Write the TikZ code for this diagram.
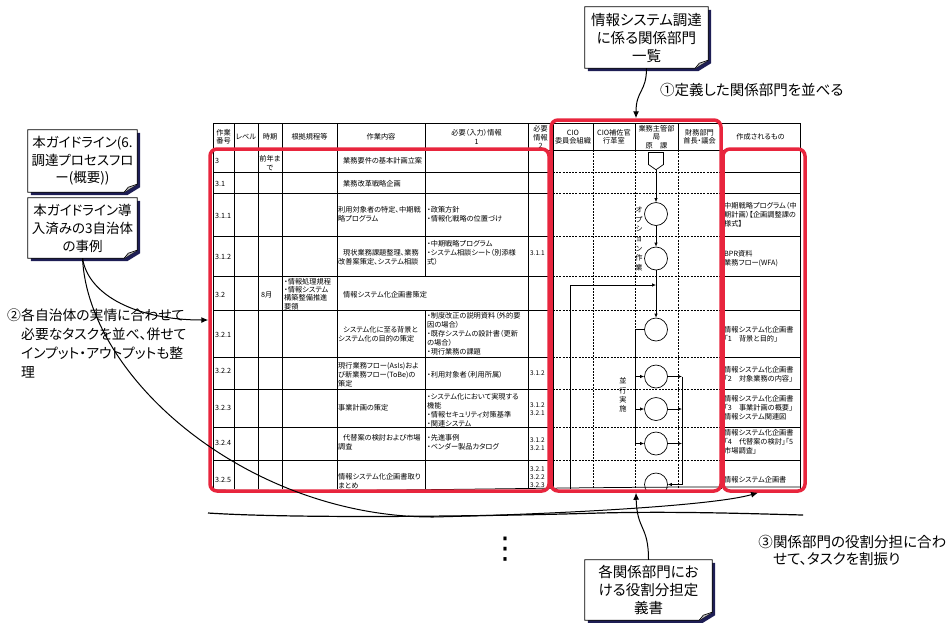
\documentclass[tikz,border=0pt]{standalone}
\usepackage{fontspec}
\setmainfont{Noto Sans CJK JP}[RawFeature=+palt]
\newfontfamily\dotfont{DejaVu Sans}
\usepackage{tikz}
\usetikzlibrary{arrows.meta,positioning,shapes.symbols,backgrounds}
\definecolor{Alert}{HTML}{E8253D}
\definecolor{Shade}{HTML}{1E1E55}

\begin{document}
\begin{tikzpicture}[x=1pt,y=-1pt,
    cell/.style={anchor=west,inner sep=0pt,align=left,font=\fontsize{7.2}{9}\selectfont},
    head/.style={inner sep=0pt,align=center,font=\fontsize{7.2}{8.5}\selectfont},
    ref/.style={anchor=west,inner sep=0pt,align=left,font=\fontsize{6.5}{7.8}\selectfont},
    grid/.style={line width=0.75pt},
    lane/.style={line width=0.9pt,dash pattern=on 2pt off 1.2pt},
    act/.style={circle,draw,fill=white,minimum size=23,inner sep=0pt,line width=0.7pt},
    flow/.style={line width=0.7pt},
    flowarr/.style={flow,-{Latex[length=4pt,width=3.5pt]}},
    zone/.style={draw=Alert,line width=3.5pt,rounded corners=7pt,inner sep=0pt},
    note/.style={inner sep=0pt,align=center,font=\fontsize{14.5}{18}\selectfont},
    remark/.style={inner sep=0pt,align=left,font=\fontsize{14.5}{19}\selectfont},
    callarrow/.style={line width=1pt,-{Latex[length=7pt,width=6pt]}}
  ]
  \useasboundingbox (0,0) rectangle (949,622);

  \begin{scope}
    \clip (200,100) rectangle (820,489.5);
    \foreach \x in {213,234,258,282,337,528,553,721,800}
      \draw[grid] (\x,123) -- (\x,489);
    \draw[grid] (425,123) -- (425,276) (425,310) -- (425,489);
    \foreach \x in {593,635,678}{
      \draw[grid] (\x,123) -- (\x,150);
      \draw[lane] (\x,150) -- (\x,489);
    }
    \foreach \y in {123,150}
      \draw[grid] (213,\y) -- (800,\y);
    \foreach \y in {172,193,236,276,310,357,389,427,460}{
      \draw[grid] (213,\y) -- (553,\y) (721,\y) -- (800,\y);
      \draw[lane] (553,\y) -- (721,\y);
    }

    \node[head] (h-no) at (223.5,137) {作業\\番号};
    \node[head] (h-level) at (246,137) {レベル};
    \node[head] (h-when) at (270,137) {時期};
    \node[head] (h-rule) at (309.5,137) {根拠規程等};
    \node[head] (h-task) at (381,137) {作業内容};
    \node[head] (h-inA) at (476.5,137) {必要（入力）情報\\1};
    \node[head] (h-inB) at (540.5,137) {必要\\情報\\2};
    \node[head] (h-cio) at (573,137) {CIO\\委員会組織};
    \node[head] (h-aide) at (614,137) {CIO補佐官\\行革室};
    \node[head] (h-owner) at (656.5,137) {業務主管部\\局\\原　課};
    \node[head] (h-fin) at (699.5,137) {財務部門\\首長・議会};
    \node[head] (h-out) at (760.5,137) {作成されるもの};

    \foreach \id/\y/\num in {r3/161/3,r31/184/3.1,r311/216/3.1.1,r312/257/3.1.2,r32/295/3.2,
        r321/335/3.2.1,r322/371/3.2.2,r323/408/3.2.3,r324/443/3.2.4,r325/480/3.2.5}
      \node[cell] (\id-no) at (215,\y) {\num};

    \foreach \id/\y/\txt in {r3/161/{\hspace*{5pt}業務要件の基本計画立案},
        r31/184/{\hspace*{5pt}業務改革戦略企画},
        r311/214.5/{利用対象者の特定、中期戦\\略プログラム},
        r312/257.5/{\hspace*{5pt}現状業務課題整理、業務\\改善案策定、システム相談},
        r32/295/{\hspace*{5pt}情報システム化企画書策定},
        r321/334/{\hspace*{5pt}システム化に至る背景と\\システム化の目的の策定},
        r322/375/{現行業務フロー(AsIs)およ\\び新業務フロー(ToBe)の\\策定},
        r323/408/{事業計画の策定},
        r324/442.5/{\hspace*{5pt}代替案の検討および市場\\調査},
        r325/481/{情報システム化企画書取り\\まとめ}}
      \node[cell] (\id-task) at (338,\y) {\txt};

    \foreach \id/\y/\txt in {r311/214.5/{・政策方針\\・情報化戦略の位置づけ},
        r312/252.5/{・中期戦略プログラム\\・システム相談シート（別添様\\式）},
        r321/333.5/{・制度改正の説明資料（外的要\\因の場合）\\・既存システムの設計書（更新\\の場合）\\・現行業務の課題},
        r322/375/{・利用対象者（利用所属）},
        r323/410/{・システム化において実現する\\機能\\・情報セキュリティ対策基準\\・関連システム},
        r324/442.5/{・先進事例\\・ベンダー製品カタログ}}
      \node[cell] (\id-inA) at (427,\y) {\txt};

    \foreach \id/\y/\txt in {r312/253/{3.1.1},r322/373/{3.1.2},r323/409/{3.1.2\\3.2.1},
        r324/444/{3.1.2\\3.2.1},r325/477/{3.2.1\\3.2.2\\3.2.3}}
      \node[ref] (\id-inB) at (530,\y) {\txt};

    \foreach \id/\y/\txt in {r311/215/{中期戦略プログラム（中\\期計画）【企画調整課の\\様式】},
        r312/259/{BPR資料\\業務フロー(WFA)},
        r321/334/{情報システム化企画書\\「1　背景と目的」},
        r322/374/{情報システム化企画書\\「2　対象業務の内容」},
        r323/408/{情報システム化企画書\\「3　事業計画の概要」\\情報システム関連図},
        r324/442/{情報システム化企画書\\「4　代替案の検討」「5\\市場調査」},
        r325/480/{情報システム企画書}}
      \node[cell] (\id-out) at (724,\y) {\txt};

    \node[cell,anchor=center,align=center] (r3-when) at (270,163) {前年ま\\で};
    \node[cell] (r32-when) at (261,295) {8月};
    \node[cell,font=\fontsize{7.2}{8.3}\selectfont] (r32-rule) at (284,294) {・情報処理規程\\・情報システム\\構築整備推進\\要領};

    \node[signal,draw,fill=white,signal to=south,signal from=nowhere,signal pointer angle=110,
      minimum width=15,minimum height=12,inner sep=0pt,line width=0.7pt] (start) at (656,158.5) {};
    \node[act] (c311) at (656,214) {};
    \node[act] (c312) at (656,258.5) {};
    \node[act] (c321) at (656,329.5) {};
    \node[act] (c322) at (656,376.5) {};
    \node[act] (c323) at (656,409) {};
    \node[act] (c324) at (656,443.5) {};
    \node[act] (c325) at (656,484.5) {};
    \coordinate (merge) at (656,285);
    \coordinate (loopin) at (570,489);
    \coordinate (join) at (682,376.5);
    \draw[flowarr] (start) -- (c311);
    \draw[flowarr] (c311) -- (c312);
    \draw[flowarr] (c312) -- (c321);
    \draw[flowarr] (loopin) |- (merge);
    \draw[flow] (c321) -- ++(-21,0) coordinate (fork);
    \foreach \c in {c322,c323,c324}{
      \draw[flowarr] (fork) |- (\c);
      \draw[flowarr] (\c) -- (\c -| join);
    }
    \draw[flowarr] (join) |- (c325);
    \node[cell,anchor=center,align=center,font=\fontsize{7.2}{9.7}\selectfont] (optional) at (639,239) {オ\\プ\\シ\\ョ\\ン\\作\\業};
    \node[cell,anchor=center,align=center,font=\fontsize{7.2}{9.4}\selectfont] (parallel) at (623,395) {並\\行\\実\\施};
  \end{scope}
  \draw[grid] (213,490) .. controls (420,492) and (560,486) .. (800,487);

  \node[zone,minimum width=339,minimum height=342] (taskbox) at (379.5,320) {};
  \node[zone,minimum width=170,minimum height=371] (deptbox) at (636,305.5) {};
  \node[zone,minimum width=82,minimum height=342] (outbox) at (764,320) {};

  \draw[line width=1.2pt] (208,513) .. controls (300,519) and (500,516) .. (600,513)
    .. controls (680,511) and (760,514) .. (803,515);
  \node[inner sep=0pt,font=\dotfont\fontsize{30}{30}\selectfont] (more) at (505,549) {⋮};

  \node[note,minimum width=123,minimum height=61] (deptlist) at (646.5,37.5) {情報システム調達\\に係る関係部門\\一覧};
  \node[note,minimum width=109,minimum height=62,font=\fontsize{13.5}{17.5}\selectfont] (guide) at (82.5,161) {本ガイドライン(6.\\調達プロセスフロ\\ー(概要))};
  \node[note,minimum width=109,minimum height=60,font=\fontsize{13.5}{18}\selectfont] (cases) at (82.5,228) {本ガイドライン導\\入済みの3自治体\\の事例};
  \node[note,minimum width=127,minimum height=60] (roles) at (648.5,590) {各関係部門にお\\ける役割分担定\\義書};
  \begin{scope}[on background layer]
    \foreach \nm in {deptlist,guide,cases,roles}{
      \fill[Shade] ([shift={(3,3)}]\nm.north west) -- ([shift={(3,3)}]\nm.north east)
        -- ([shift={(3,-5)}]\nm.south east) -- ([shift={(-10,3)}]\nm.south east)
        -- ([shift={(3,3)}]\nm.south west) -- cycle;
      \filldraw[fill=white,line width=0.8pt] (\nm.north west) -- (\nm.north east)
        -- ([shift={(0,-8)}]\nm.south east) -- ([shift={(-13,0)}]\nm.south east)
        -- (\nm.south west) -- cycle;
      \filldraw[fill=gray!55,line width=0.6pt] ([shift={(0,-8)}]\nm.south east)
        -- ([shift={(-9,-5)}]\nm.south east) -- ([shift={(-13,0)}]\nm.south east);
    }
  \end{scope}

  \draw[callarrow] (deptlist.south) .. controls +(0,24) and +(0,-28) .. (deptbox.north);
  \draw[callarrow] (cases.south) .. controls +(6,38) and +(-70,0) .. (taskbox.west);
  \coordinate (sweep) at (433,517);
  \draw[callarrow] (cases.south) .. controls +(6,122) and +(-183,0) .. (sweep)
    .. controls +(127,-3) and +(-45,13) .. ([xshift=-6pt]outbox.south);
  \draw[callarrow] (roles.north) .. controls +(0,-35) and +(1,38) .. (deptbox.south);

  \node[remark,anchor=west] (stepone) at (660,90) {①定義した関係部門を並べる};
  \node[remark,anchor=north west,font=\fontsize{13.8}{19}\selectfont] (steptwo) at (21,309) {各自治体の実情に合わせて\\必要なタスクを並べ、併せて\\インプット・アウトプットも整\\理};
  \node[remark,anchor=north east,font=\fontsize{13.8}{19}\selectfont] (steptwonum) at (steptwo.north west) {②};
  \node[remark,anchor=north west,font=\fontsize{14.5}{17}\selectfont] (stepthree) at (773,535) {関係部門の役割分担に合わ\\せて、タスクを割振り};
  \node[remark,anchor=north east,font=\fontsize{14.5}{17}\selectfont] (stepthreenum) at (stepthree.north west) {③};
\end{tikzpicture}
\end{document}
